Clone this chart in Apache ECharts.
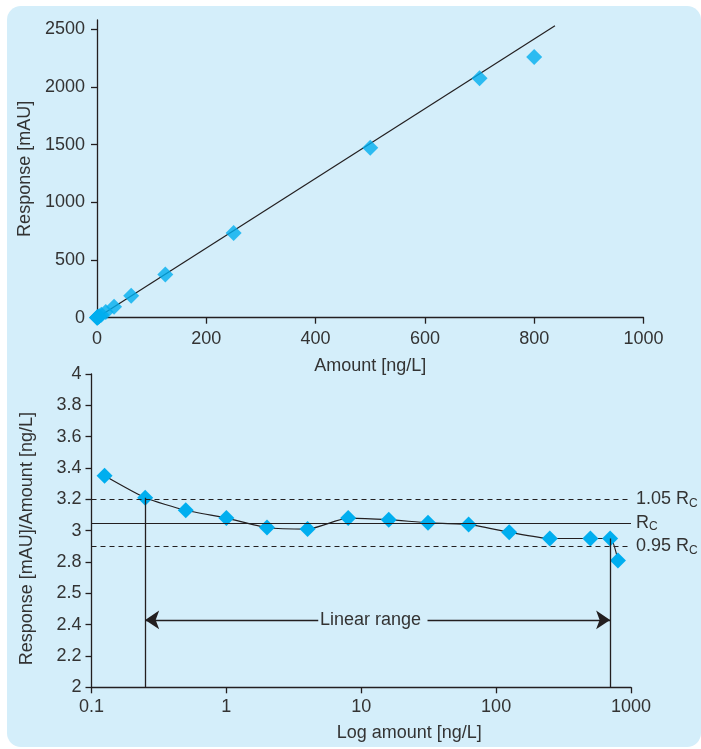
<!DOCTYPE html>
<html>
<head>
<meta charset="utf-8">
<title>Calibration and linear range</title>
<script src="https://cdn.jsdelivr.net/npm/echarts@6/dist/echarts.min.js"></script>
<style>
    html, body { margin: 0; padding: 0; background: #fff; }
    #chart { width: 701px; height: 749px; }
</style>
</head>
<body>
<div id="chart"></div>
<script>
    // calibration standards [ng/L]
    var amounts = [0.125, 0.25, 0.5, 1, 2, 4, 8, 16, 31.25, 62.5, 125, 250, 500, 700, 800];
    // detector response [mAU]
    var responses = [0.4, 0.8, 1.6, 3.1, 6, 12, 25, 49, 95, 190, 374, 735, 1473, 2075, 2260];
    // response factor [mAU]/[ng/L]
    var ratios = [3.35, 3.21, 3.13, 3.08, 3.02, 3.01, 3.08, 3.07, 3.05, 3.04, 2.99, 2.95, 2.95, 2.95, 2.81];
    // regression line ends
    var fitLine = [[0, 0], [838, 2530]];
    // Rc and the +-5% band
    var rc = 3.05;
    var rcFactors = [1.05, 1, 0.95];
    var rcNames = ['1.05 R', 'R', '0.95 R'];
    // first / last point inside the linear range (index into amounts)
    var linearStart = 1;
    var linearEnd = 13;
    // "Linear range" arrow annotation
    var arrowY = 2.43;
    var rangeTextX = 11.7;
    var arrowGap = [4.8, 31];
    // tick labels
    var topXTicks = [0, 200, 400, 600, 800, 1000];
    var topYTicks = [0, 500, 1000, 1500, 2000, 2500];
    var bottomYTicks = [2, 2.2, 2.4, 2.6, 2.8, 3, 3.2, 3.4, 3.6, 3.8, 4];
    var bottomYLabels = ['2', '2.2', '2.4', '2.5', '2.8', '3', '3.2', '3.4', '3.6', '3.8', '4'];

    var ink = '#231f20';
    var textColor = '#333';
    var blue = '#00aeef';
    var bg = '#d4eefa';
    var font = '"Liberation Sans", Arial, sans-serif';

    var chart = echarts.init(document.getElementById('chart'), null, { renderer: 'canvas' });

    function axisBase() {
        return {
            axisLine: { show: true, onZero: false, lineStyle: { color: ink, width: 1.3 } },
            axisTick: { show: true, length: 6, lineStyle: { color: ink, width: 1.3 } },
            axisLabel: { color: textColor, fontSize: 18, fontFamily: font },
            splitLine: { show: false },
            nameLocation: 'middle',
            nameTextStyle: { color: textColor, fontSize: 18, fontFamily: font }
        }
    }

    var topX = axisBase();
    Object.assign(topX, {
        gridIndex: 0, type: 'value', min: 0, max: 1000, interval: 200,
        name: 'Amount [ng/L]', nameGap: 39
    });
    topX.axisLabel.margin = 12;
    topX.axisLabel.formatter = function (v) { return String(v) };

    var topY = axisBase();
    Object.assign(topY, {
        gridIndex: 0, type: 'value', min: 0, max: 2580,
        name: 'Response [mAU]', nameGap: 61
    });
    topY.axisTick.customValues = topYTicks;
    topY.axisLabel.customValues = topYTicks;
    topY.axisLabel.margin = 12;
    topY.axisLabel.formatter = function (v) { return String(v) };

    var botX = axisBase();
    Object.assign(botX, {
        gridIndex: 1, type: 'log', logBase: 10, min: 0.1, max: 1000,
        name: 'Log amount [ng/L]', nameGap: 37
    });
    botX.axisLabel.margin = 11;
    botX.axisLabel.formatter = function (v) { return String(+(+v).toPrecision(6)) };
    botX.axisTick.customValues = [0.1, 1, 10, 100, 1000];
    botX.axisLabel.customValues = [0.1, 1, 10, 100, 1000];
    botX.nameTextStyle.padding = [0, 0, 0, 96];
    botX.minorTick = { show: false };

    var botY = axisBase();
    Object.assign(botY, {
        gridIndex: 1, type: 'value', min: 2, max: 4, interval: 0.2,
        name: 'Response [mAU]/Amount [ng/L]', nameGap: 55
    });
    botY.axisLabel.margin = 10;
    botY.axisLabel.formatter = function (v) {
        var i = bottomYTicks.findIndex(function (t) { return Math.abs(t - v) < 1e-6 });
        return i >= 0 ? bottomYLabels[i] : '';
    };
    botY.nameTextStyle.padding = [0, 16, 0, 0];

    // Rc lines with the subscript labels
    var rcLines = rcFactors.map(function (f, i) {
        return {
            yAxis: rc * f,
            lineStyle: { type: f === 1 ? 'solid' : [5, 4] },
            label: { formatter: '{m|' + rcNames[i] + '}{s|C}' }
        }
    });
    var vLines = [linearStart, linearEnd].map(function (i) {
        return [{ coord: [amounts[i], 2] }, { coord: [amounts[i], ratios[i]] }]
    });
    var arrows = [
        [{ coord: [arrowGap[0], arrowY], symbol: 'none' }, { coord: [amounts[linearStart], arrowY], symbol: 'arrow' }],
        [{ coord: [arrowGap[1], arrowY], symbol: 'none' }, { coord: [amounts[linearEnd], arrowY], symbol: 'arrow' }]
    ];

    var option = {
        animation: false,
        backgroundColor: '#fff',
        graphic: [{
            type: 'rect', z: -10,
            shape: { x: 7, y: 6, width: 694, height: 741, r: 14 },
            style: { fill: bg }
        }],
        grid: [
            { left: 97, top: 20, width: 546.5, height: 297.7 },
            { left: 91.5, top: 374, width: 539.5, height: 313.3 }
        ],
        xAxis: [topX, botX],
        yAxis: [topY, botY],
        series: [
            {
                type: 'line', xAxisIndex: 0, yAxisIndex: 0, z: 1,
                data: fitLine, symbol: 'none',
                lineStyle: { color: ink, width: 1.2 }
            },
            {
                type: 'scatter', xAxisIndex: 0, yAxisIndex: 0, z: 3,
                data: amounts.map(function (a, i) { return [a, responses[i]] }),
                symbol: 'diamond', symbolSize: 16,
                itemStyle: { color: blue }
            },
            {
                // helper series carrying the reference lines
                type: 'line', xAxisIndex: 1, yAxisIndex: 1, z: 1,
                data: [],
                markLine: {
                    silent: true, symbol: 'none',
                    lineStyle: { color: ink, width: 1.2, type: 'solid' },
                    label: {
                        show: true, position: 'end', distance: 5, color: textColor,
                        rich: {
                            m: { fontSize: 18, fontFamily: font, color: textColor, lineHeight: 20 },
                            s: { fontSize: 12, fontFamily: font, color: textColor, lineHeight: 12, verticalAlign: 'bottom' }
                        }
                    },
                    data: rcLines
                }
            },
            {
                type: 'line', xAxisIndex: 1, yAxisIndex: 1, z: 1,
                data: [],
                markLine: {
                    silent: true, symbol: 'none',
                    lineStyle: { color: ink, width: 1.3, type: 'solid' },
                    label: { show: false },
                    data: vLines
                }
            },
            {
                type: 'line', xAxisIndex: 1, yAxisIndex: 1, z: 1,
                data: [],
                markLine: {
                    silent: true, symbolSize: 14,
                    lineStyle: { color: ink, width: 1.3, type: 'solid' },
                    itemStyle: { color: ink },
                    label: { show: false },
                    data: arrows
                },
                markPoint: {
                    silent: true, symbol: 'circle', symbolSize: 1,
                    itemStyle: { color: 'rgba(0,0,0,0)' },
                    label: {
                        show: true, position: 'inside', formatter: 'Linear range',
                        color: textColor, fontSize: 18, fontFamily: font
                    },
                    data: [{ coord: [rangeTextX, arrowY] }]
                }
            },
            {
                type: 'line', xAxisIndex: 1, yAxisIndex: 1, z: 3,
                data: amounts.map(function (a, i) { return [a, ratios[i]] }),
                smooth: 0.2,
                symbol: 'diamond', symbolSize: 16, showAllSymbol: true,
                lineStyle: { color: ink, width: 1.2 },
                itemStyle: { color: blue }
            }
        ]
    };
    chart.setOption(option);
</script>
</body>
</html>
